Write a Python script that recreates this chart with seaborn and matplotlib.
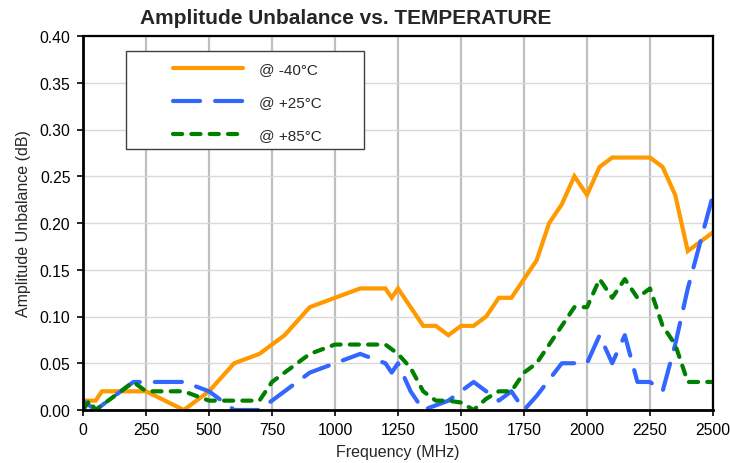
import matplotlib
matplotlib.use("Agg")
import matplotlib.pyplot as plt
from matplotlib.patches import Rectangle
import seaborn as sns
import pandas as pd

# ---- data ----
freq_m40 = [0, 50, 75, 250, 400, 500, 600, 700, 800, 900, 1000, 1100, 1200, 1225, 1250,
            1350, 1400, 1450, 1500, 1550, 1600, 1650, 1700, 1750, 1800, 1850, 1900, 1950,
            2000, 2050, 2100, 2250, 2300, 2350, 2400, 2450, 2500]
val_m40 = [0.01, 0.01, 0.02, 0.02, 0.0, 0.02, 0.05, 0.06, 0.08, 0.11, 0.12, 0.13, 0.13, 0.12, 0.13,
           0.09, 0.09, 0.08, 0.09, 0.09, 0.10, 0.12, 0.12, 0.14, 0.16, 0.20, 0.22, 0.25,
           0.23, 0.26, 0.27, 0.27, 0.26, 0.23, 0.17, 0.18, 0.19]

freq_p25 = [0, 50, 200, 400, 500, 550, 600, 700, 750, 800, 900, 1000, 1100, 1150, 1200, 1225,
            1250, 1300, 1350, 1450, 1550, 1600, 1650, 1700, 1750, 1800, 1900, 2000, 2050,
            2100, 2150, 2200, 2250, 2300, 2350, 2400, 2450, 2500]
val_p25 = [0.01, 0.0, 0.03, 0.03, 0.02, 0.01, 0.0, 0.0, 0.01, 0.02, 0.04, 0.05, 0.06, 0.055, 0.05, 0.04,
           0.05, 0.02, 0.0, 0.01, 0.03, 0.02, 0.01, 0.02, 0.0, 0.015, 0.05, 0.05, 0.08,
           0.05, 0.08, 0.03, 0.03, 0.02, 0.07, 0.13, 0.18, 0.23]

freq_p85 = [0, 25, 50, 200, 250, 400, 500, 700, 750, 800, 900, 1000, 1200, 1250, 1300, 1350,
            1400, 1450, 1500, 1550, 1600, 1650, 1700, 1750, 1800, 1850, 1900, 1950, 2000,
            2050, 2100, 2150, 2200, 2250, 2300, 2350, 2400, 2450, 2500]
val_p85 = [0.0, 0.01, 0.0, 0.03, 0.02, 0.02, 0.01, 0.01, 0.03, 0.04, 0.06, 0.07, 0.07, 0.06, 0.045, 0.02,
           0.01, 0.01, 0.008, 0.0, 0.012, 0.02, 0.02, 0.04, 0.05, 0.07, 0.09, 0.11, 0.11,
           0.14, 0.12, 0.14, 0.12, 0.13, 0.09, 0.07, 0.03, 0.03, 0.03]

series_labels = ["@ -40°C", "@ +25°C", "@ +85°C"]
x_ticks = [0, 250, 500, 750, 1000, 1250, 1500, 1750, 2000, 2250, 2500]
y_ticks = [0.0, 0.05, 0.10, 0.15, 0.20, 0.25, 0.30, 0.35, 0.40]

# ---- style ----
sns.set_style("white")
plt.rcParams["font.family"] = ["Liberation Sans", "DejaVu Sans"]

W, H = 730, 464
fig = plt.figure(figsize=(W / 100, H / 100), dpi=100)
L, R, T, B = 83, 713, 37, 411
ax = fig.add_axes([L / W, 1 - B / H, (R - L) / W, (B - T) / H])

colors = ["#FF9900", "#3366FF", "#008000"]
dash_patterns = [None, (6.5, 3.6), (2.2, 2.2)]
data = [(freq_m40, val_m40), (freq_p25, val_p25), (freq_p85, val_p85)]

for (f, v), lab, c, d in zip(data, series_labels, colors, dash_patterns):
    df = pd.DataFrame({"Frequency": f, "Value": v})
    sns.lineplot(data=df, x="Frequency", y="Value", ax=ax, color=c, linewidth=3.0,
                 label=lab, estimator=None, sort=False,
                 solid_capstyle="round", dash_capstyle="round", solid_joinstyle="miter")
    line = ax.lines[-1]
    if d is not None:
        line.set_dashes(d)

ax.set_xlim(0, 2500)
ax.set_ylim(0, 0.40)
ax.set_xticks(x_ticks)
ax.set_xticklabels([str(t) for t in x_ticks])
ax.set_yticks(y_ticks)
ax.set_yticklabels([f"{t:.2f}" for t in y_ticks])

ax.xaxis.grid(True, color="#BFBFBF", linewidth=1.6)
ax.yaxis.grid(True, color="#D9D9D9", linewidth=1.0)
ax.set_axisbelow(True)

for s in ["left", "bottom"]:
    ax.spines[s].set_linewidth(2.0)
    ax.spines[s].set_color("black")
for s in ["top", "right"]:
    ax.spines[s].set_linewidth(1.6)
    ax.spines[s].set_color("black")
    ax.spines[s].set_visible(True)

ax.tick_params(axis="both", which="major", direction="out", length=4, width=1.2,
               color="black", labelsize=11.3, labelcolor="black", bottom=True, left=True)
ax.tick_params(axis="x", pad=5)
ax.tick_params(axis="y", pad=5)

ax.set_xlabel("Frequency (MHz)", fontsize=11.5, labelpad=5)
ax.set_ylabel("Amplitude Unbalance (dB)", fontsize=11.5, labelpad=6)

fig.text(346 / W, 1 - 18 / H, "Amplitude Unbalance vs. TEMPERATURE", ha="center", va="center",
         fontsize=15, fontweight="bold")

# legend box
ax.get_legend().remove()
handles = ax.lines[:3]
rect = Rectangle((126 / W, 1 - 150 / H), (364 - 126) / W, (150 - 52) / H,
                 transform=fig.transFigure, facecolor="white", edgecolor="#404040",
                 linewidth=1.0, zorder=10)
fig.patches.append(rect)
leg = fig.legend(handles, series_labels, loc="upper left",
                 bbox_to_anchor=(173 / W, 1 - 63 / H), bbox_transform=fig.transFigure,
                 frameon=False, fontsize=11, handlelength=4.6, handletextpad=1.0,
                 labelspacing=1.25, borderpad=0, borderaxespad=0)
leg.set_zorder(11)

fig.savefig("out.png", dpi=100)
